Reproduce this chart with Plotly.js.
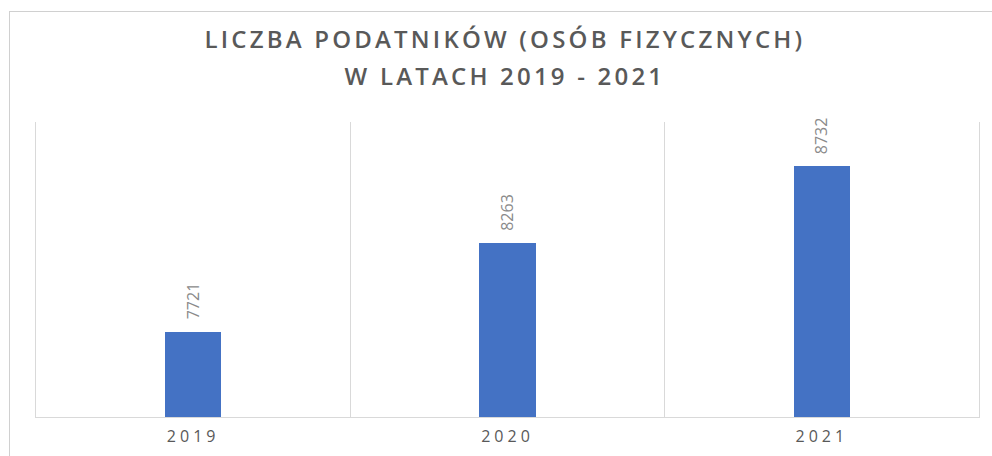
<!DOCTYPE html>
<html>
<head>
<meta charset="utf-8">
<script src="https://cdn.plot.ly/plotly-3.0.1.min.js"></script>
<style>
html,body{margin:0;padding:0;background:#fff;overflow:hidden;}
#wrap{position:relative;width:992px;height:456px;}
#chart{position:absolute;left:0;top:0;width:992px;height:456px;}
#frame{position:absolute;left:9px;top:11px;width:1100px;height:600px;border:1px solid #d0d0d0;pointer-events:none;}
.gtitle{letter-spacing:3.2px;}
.xtick text{letter-spacing:4px;}
</style>
</head>
<body>
<div id="wrap"><div id="frame"></div><div id="chart"></div></div>
<script>
const years = ['2019', '2020', '2021'];
const taxpayers = [7721, 8263, 8732];
const titleLines = ['LICZBA PODATNIKÓW (OSÓB FIZYCZNYCH)', 'W LATACH 2019 - 2021'];

const grey = '#595959';
const lineCol = '#d9d9d9';

const trace = {
  type: 'bar',
  x: years,
  y: taxpayers,
  width: 0.18,
  marker: {color: '#4472C4'},
  hoverinfo: 'x+y'
};

const annotations = years.map((yr, i) => ({
  x: i, y: taxpayers[i], xref: 'x', yref: 'y',
  text: String(taxpayers[i]),
  showarrow: false,
  textangle: -90,
  xanchor: 'center', yanchor: 'bottom',
  yshift: 10,
  font: {family: 'Open Sans, sans-serif', size: 16, color: '#8a8a8a'}
}));

const layout = {
  width: 992, height: 456,
  margin: {l: 36, r: 13, t: 122, b: 39, pad: 0},
  paper_bgcolor: 'rgba(0,0,0,0)',
  plot_bgcolor: 'rgba(0,0,0,0)',
  showlegend: false,
  title: {
    text: titleLines.join('<br>'),
    font: {family: 'Open Sans, sans-serif', size: 24, color: grey, weight: 600},
    x: 0.509, xanchor: 'center',
    y: 1 - 48/456, yanchor: 'top', yref: 'container'
  },
  xaxis: {
    type: 'category',
    range: [-0.5, 2.5],
    tickson: 'boundaries',
    showgrid: true, gridcolor: lineCol, gridwidth: 1,
    showline: true, linecolor: lineCol, linewidth: 1,
    ticks: '',
    ticklabelstandoff: 5,
    tickfont: {family: 'Open Sans, sans-serif', size: 16, color: grey},
    fixedrange: true
  },
  yaxis: {
    range: [7200, 9000],
    showgrid: false, zeroline: false,
    showticklabels: false, ticks: '',
    showline: true, mirror: true, linecolor: lineCol, linewidth: 1,
    fixedrange: true
  },
  annotations: annotations,
  bargap: 0
};

Plotly.newPlot('chart', [trace], layout, {displayModeBar: false, staticPlot: true}).then(gd => {
  const lines = gd.querySelectorAll('.gtitle tspan.line');
  lines.forEach(t => {
    const dy = parseFloat(t.getAttribute('dy') || '0');
    if (dy) t.setAttribute('dy', (dy * 1.55 / 1.3) + 'em');
  });
});
</script>
</body>
</html>
